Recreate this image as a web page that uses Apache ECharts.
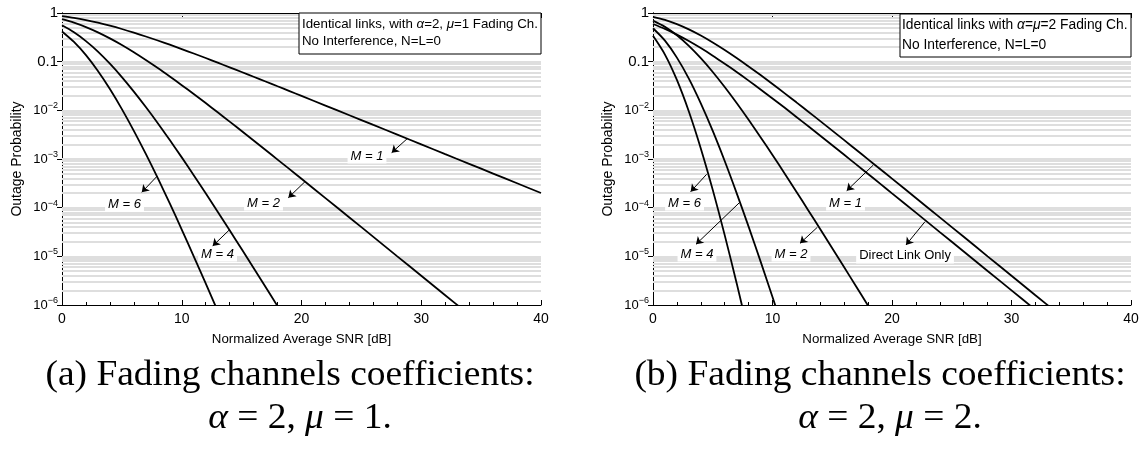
<!DOCTYPE html>
<html>
<head>
<meta charset="utf-8">
<title>Outage probability</title>
<script src="https://cdn.jsdelivr.net/npm/echarts@6/dist/echarts.min.js"></script>
<style>
  html, body { margin: 0; padding: 0; background: #fff; }
  #chart { width: 1142px; height: 450px; }
</style>
</head>
<body>
<div id="chart"></div>
<script>
// Normalized average SNR [dB]
var snr = [0, 1, 2, 3, 4, 5, 6, 7, 8, 9, 10, 11, 12, 13, 14, 15, 16, 17, 18, 19, 20,
  22, 24, 26, 28, 30, 32, 34, 36, 38, 40];

// (a) alpha=2, mu=1 -- outage probability
var leftM1 = [0.865, 0.796, 0.717, 0.633, 0.549, 0.469, 0.395, 0.329, 0.272, 0.223, 0.181,
  0.147, 0.119, 0.0954, 0.0765, 0.0613, 0.0490, 0.0391, 0.0312, 0.0249, 0.0198,
  0.0125, 0.00793, 0.00501, 0.00317, 0.00200, 0.00126, 0.000796, 0.000502, 0.000317, 0.000200];
var leftM2 = [0.748, 0.634, 0.514, 0.401, 0.301, 0.220, 0.156, 0.108, 0.0738, 0.0495, 0.0329,
  0.0216, 0.0141, 0.00910, 0.00586, 0.00376, 0.00240, 0.00153, 0.000973, 0.000618, 0.000392,
  0.000157, 6.30e-5, 2.51e-5, 1.00e-5, 3.99e-6, 1.59e-6, 6.34e-7];
var leftM4 = [0.558, 0.401, 0.264, 0.161, 0.0908, 0.0483, 0.0243, 0.0117, 0.00545, 0.00245,
  0.00108, 0.000466, 0.000198, 8.28e-5, 3.43e-5, 1.41e-5, 5.77e-6, 2.34e-6, 9.48e-7];
var leftM6 = [0.418, 0.254, 0.136, 0.0643, 0.0274, 0.0106, 0.00379, 0.00127, 0.000403,
  0.000122, 3.55e-5, 1.00e-5, 2.79e-6, 7.53e-7];

// (b) alpha=2, mu=2
var rightDirect = [0.594, 0.471, 0.360, 0.265, 0.190, 0.133, 0.0909, 0.0613, 0.0408, 0.0268,
  0.0175, 0.0114, 0.00732, 0.00470, 0.00301, 0.00192, 0.00122, 0.000775, 0.000492, 0.000312,
  0.000197, 7.90e-5, 3.15e-5, 1.26e-5, 5.01e-6, 2.00e-6, 7.96e-7];
var rightM1 = [0.835, 0.721, 0.590, 0.460, 0.344, 0.248, 0.174, 0.119, 0.0799, 0.0530, 0.0347,
  0.0226, 0.0146, 0.00938, 0.00600, 0.00383, 0.00244, 0.00155, 0.000983, 0.000623, 0.000395,
  0.000158, 6.31e-5, 2.52e-5, 1.00e-5, 4.00e-6, 1.59e-6, 6.34e-7];
var rightM2 = [0.698, 0.519, 0.348, 0.211, 0.118, 0.0614, 0.0301, 0.0141, 0.00638, 0.00281,
  0.00121, 0.000510, 0.000213, 8.79e-5, 3.61e-5, 1.47e-5, 5.96e-6, 2.40e-6, 9.66e-7];
var rightM4 = [0.486, 0.270, 0.121, 0.0448, 0.0139, 0.00377, 0.000908, 0.000199, 4.07e-5,
  7.87e-6, 1.46e-6, 2.61e-7];
var rightM6 = [0.340, 0.140, 0.0421, 0.00947, 0.00165, 0.000232, 2.73e-5, 2.81e-6, 2.60e-7];

var FONT = 'Liberation Sans';
var SERIF = 'Liberation Serif';

// log grid lines (2..9 x each decade) and matching minor tick positions
var gridVals = [];
for (var d = -6; d < 0; d++) {
  for (var k = 1; k < 10; k++) {
    if (d === -6 && k === 1) continue;
    gridVals.push(k * Math.pow(10, d));
  }
}
var minorPos = gridVals.map(function (v) { return Math.log10(v); });

function pairs(ys) {
  return ys.map(function (y, i) { return [snr[i], y]; });
}

function xAx(g, pos, labels) {
  return {
    type: 'value', gridIndex: g, position: pos, min: 0, max: 40, interval: 10,
    axisLine: { show: true, onZero: false, lineStyle: { color: '#000', width: 1 } },
    axisTick: { show: true, inside: true, length: 5, lineStyle: { color: '#000' } },
    minorTick: { show: true, splitNumber: 5, length: 3, lineStyle: { color: '#000' } },
    splitLine: { show: false },
    axisLabel: { show: labels, color: '#000', fontSize: 14, fontFamily: FONT, margin: 7 },
    name: labels ? 'Normalized Average SNR [dB]' : '',
    nameLocation: 'middle', nameGap: 28,
    nameTextStyle: { color: '#000', fontSize: 13.3, fontFamily: FONT }
  };
}

function yLog(g, pos, labels) {
  return {
    type: 'log', logBase: 10, gridIndex: g, position: pos, min: 1e-6, max: 1,
    axisLine: { show: true, lineStyle: { color: '#000', width: 1 } },
    axisTick: { show: true, inside: true, length: 5, lineStyle: { color: '#000' } },
    splitLine: { show: false },
    axisLabel: {
      show: labels, color: '#000', fontSize: 15, fontFamily: FONT, margin: 4,
      formatter: function (v) {
        var e = Math.round(Math.log10(v));
        if (e === 0) return '1';
        if (e === -1) return '0.1';
        return '{b|10}{s|\u2212' + (-e) + '}';
      },
      rich: {
        b: { fontSize: 13, fontFamily: FONT, color: '#000' },
        s: { fontSize: 9, fontFamily: FONT, color: '#000', padding: [0, 0, 9, 0] }
      }
    },
    name: labels ? 'Outage Probability' : '',
    nameLocation: 'middle', nameGap: 38,
    nameTextStyle: { color: '#000', fontSize: 14, fontFamily: FONT }
  };
}

function yMinor(g, pos) {
  return {
    type: 'value', gridIndex: g, position: pos, min: -6, max: 0,
    axisLine: { show: false }, axisLabel: { show: false }, splitLine: { show: false },
    axisTick: { show: true, inside: true, length: 3, customValues: minorPos,
      lineStyle: { color: '#000' } }
  };
}

function gridLines(xi, yi) {
  return {
    type: 'line', xAxisIndex: xi, yAxisIndex: yi, data: [], silent: true, z: 1,
    markLine: {
      silent: true, symbol: 'none', z: 1, animation: false, precision: 12,
      label: { show: false },
      lineStyle: { color: '#dedede', width: 2, type: 'solid' },
      data: gridVals.map(function (v) { return { yAxis: v }; })
    }
  };
}

// annotation: arrow from the curve to the label, label text
function curve(ys, xi, yi, ann) {
  var s = {
    type: 'line', xAxisIndex: xi, yAxisIndex: yi, data: pairs(ys),
    showSymbol: false, symbol: 'none', smooth: 0.3, z: 3,
    lineStyle: { color: '#000', width: 1.8 }
  };
  if (ann) {
    s.markLine = {
      silent: true, animation: false, symbol: ['none', 'arrow'], symbolSize: 7, precision: 12,
      label: { show: false },
      lineStyle: { color: '#000', width: 1, type: 'solid' },
      data: [[{ coord: ann.from }, { coord: ann.to }]]
    };
    s.markPoint = {
      silent: true, animation: false, symbol: 'rect', symbolSize: 1,
      itemStyle: { color: 'rgba(0,0,0,0)' },
      label: {
        show: true, position: 'inside', formatter: ann.text,
        fontStyle: ann.italic ? 'italic' : 'normal',
        fontSize: 13, fontFamily: FONT, color: '#000',
        backgroundColor: '#fff', padding: [1, 3]
      },
      data: [{ coord: ann.at }]
    };
  }
  return s;
}

function caption(x, y, text) {
  return {
    type: 'text', x: x, y: y, scaleX: 1.07,
    style: { text: text, fontSize: 35, fontFamily: SERIF, fill: '#000',
      align: 'center', verticalAlign: 'middle',
      rich: { i: { fontStyle: 'italic', fontSize: 35, fontFamily: SERIF } } }
  };
}

var chart = echarts.init(document.getElementById('chart'));

chart.setOption({
  backgroundColor: '#fff',
  animation: false,
  grid: [
    { left: 62, top: 13, width: 479, height: 292 },
    { left: 653, top: 13, width: 478, height: 292 }
  ],
  xAxis: [xAx(0, 'bottom', true), xAx(0, 'top', false), xAx(1, 'bottom', true), xAx(1, 'top', false)],
  yAxis: [
    yLog(0, 'left', true), yLog(0, 'right', false), yMinor(0, 'left'), yMinor(0, 'right'),
    yLog(1, 'left', true), yLog(1, 'right', false), yMinor(1, 'left'), yMinor(1, 'right')
  ],
  series: [
    gridLines(0, 0),
    gridLines(2, 4),
    curve(leftM1, 0, 0, { from: [28.87, 2.67e-3], to: [27.53, 1.35e-3], at: [25.47, 1.15e-3], text: 'M = 1', italic: true }),
    curve(leftM2, 0, 0, { from: [20.29, 3.42e-4], to: [18.9, 1.60e-4], at: [16.83, 1.25e-4], text: 'M = 2', italic: true }),
    curve(leftM4, 0, 0, { from: [13.97, 3.48e-5], to: [12.58, 1.63e-5], at: [12.99, 1.12e-5], text: 'M = 4', italic: true }),
    curve(leftM6, 0, 0, { from: [7.96, 4.48e-4], to: [6.66, 2.07e-4], at: [5.22, 1.19e-4], text: 'M = 6', italic: true }),
    curve(rightDirect, 2, 4, { from: [22.76, 5.15e-5], to: [21.17, 1.71e-5], at: [21.09, 1.02e-5], text: 'Direct Link Only', italic: false }),
    curve(rightM1, 2, 4, { from: [18.44, 7.53e-4], to: [16.21, 2.23e-4], at: [16.11, 1.25e-4], text: 'M = 1', italic: true }),
    curve(rightM2, 2, 4, { from: [13.75, 3.95e-5], to: [12.30, 1.85e-5], at: [11.55, 1.12e-5], text: 'M = 2', italic: true }),
    curve(rightM4, 2, 4, { from: [7.22, 1.26e-4], to: [3.60, 1.77e-5], at: [3.68, 1.12e-5], text: 'M = 4', italic: true }),
    curve(rightM6, 2, 4, { from: [4.49, 4.85e-4], to: [3.15, 2.13e-4], at: [2.64, 1.25e-4], text: 'M = 6', italic: true })
  ],
  graphic: [
    // legend boxes
    { type: 'rect', z: 20, shape: { x: 299, y: 13, width: 242, height: 41 },
      style: { fill: '#fff', stroke: '#000', lineWidth: 1 } },
    { type: 'text', z: 21, x: 302, y: 24,
      style: { text: 'Identical links, with {g|\u03b1}=2, {g|\u03bc}=1 Fading Ch.',
        fontSize: 13.3, fontFamily: FONT, fill: '#000', verticalAlign: 'middle',
        rich: { g: { fontStyle: 'italic', fontSize: 13.3, fontFamily: FONT } } } },
    { type: 'text', z: 21, x: 302, y: 41,
      style: { text: 'No Interference, N=L=0', fontSize: 13.3, fontFamily: FONT, fill: '#000', verticalAlign: 'middle' } },
    { type: 'rect', z: 20, shape: { x: 900, y: 14, width: 231, height: 43 },
      style: { fill: '#fff', stroke: '#000', lineWidth: 1 } },
    { type: 'text', z: 21, x: 902, y: 25,
      style: { text: 'Identical links with {g|\u03b1}={g|\u03bc}=2 Fading Ch.',
        fontSize: 13.8, fontFamily: FONT, fill: '#000', verticalAlign: 'middle',
        rich: { g: { fontStyle: 'italic', fontSize: 13.8, fontFamily: FONT } } } },
    { type: 'text', z: 21, x: 902, y: 45,
      style: { text: 'No Interference, N=L=0', fontSize: 13.8, fontFamily: FONT, fill: '#000', verticalAlign: 'middle' } },
    // captions
    caption(290, 376, '(a) Fading channels coefficients:'),
    caption(300, 419, '{i|\u03b1} = 2, {i|\u03bc} = 1.'),
    caption(880, 376, '(b) Fading channels coefficients:'),
    caption(890, 419, '{i|\u03b1} = 2, {i|\u03bc} = 2.')
  ]
});
</script>
</body>
</html>
